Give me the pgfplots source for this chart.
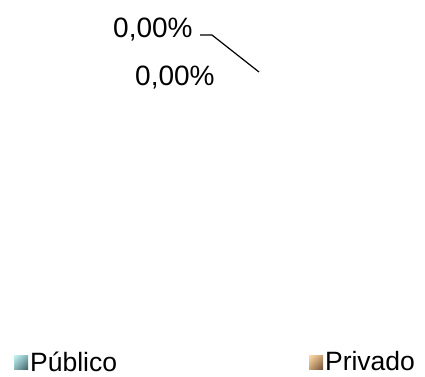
\documentclass[border=0pt]{standalone}
\usepackage{fontspec}
\setmainfont{Liberation Sans}
\usepackage{pgfplots}
\pgfplotsset{compat=1.18}
\usetikzlibrary{shadings}
\definecolor{pubA}{HTML}{C4F6F6}
\definecolor{pubM}{HTML}{86B4B6}
\definecolor{pubB}{HTML}{3E5E66}
\definecolor{priA}{HTML}{FFDCAE}
\definecolor{priM}{HTML}{C8A070}
\definecolor{priB}{HTML}{6E5036}
\begin{document}
\begin{tikzpicture}
\begin{axis}[name=ax,
  width=425pt, height=376pt, scale only axis,
  xmin=0, xmax=425, ymin=0, ymax=376, y dir=reverse,
  axis lines=none, clip=false,
  legend columns=2,
  legend style={at={(axis cs:14,362)}, anchor=west, draw=none, fill=none,
    inner sep=0pt, font=\fontsize{26.5}{30}\selectfont,
    nodes={inner ysep=0pt},
    /tikz/every even column/.append style={column sep=190pt}},
  legend cell align=left,
]
% pie values: Público 0, Privado 0
\addplot[draw=none, legend image code/.code={%
  \shade[upper left=pubA, upper right=pubM, lower left=pubM, lower right=pubB]
  (0pt,-7pt) rectangle (14pt,7pt);}] coordinates {(0,0)};
\addlegendentry{Público}
\addplot[draw=none, legend image code/.code={%
  \shade[upper left=priA, upper right=priM, lower left=priM, lower right=priB]
  (0pt,-7pt) rectangle (14pt,7pt);}] coordinates {(0,0)};
\addlegendentry{Privado}
\node[anchor=base west, inner sep=0pt, font=\fontsize{28}{30}\selectfont] at (axis cs:113,37) {0,00\%};
\node[anchor=base west, inner sep=0pt, font=\fontsize{28}{30}\selectfont] at (axis cs:135,85) {0,00\%};
\draw[black, line width=1.2pt] (axis cs:200,35) -- (axis cs:212,35) -- (axis cs:259,72);
\end{axis}
\pgfresetboundingbox
\path (ax.south west) rectangle (ax.north east);
\end{tikzpicture}
\end{document}
